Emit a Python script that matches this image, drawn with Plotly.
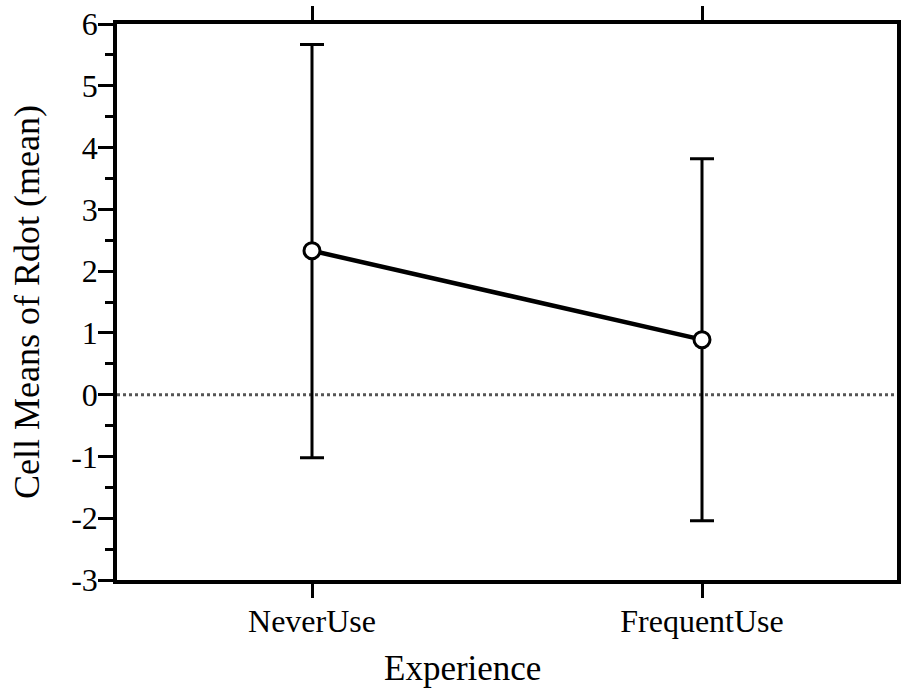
import plotly.graph_objects as go

categories = ["NeverUse", "FrequentUse"]
means = [2.33, 0.89]
err_up = [3.34, 2.93]
err_down = [3.35, 2.93]
y_tickvals = [-3, -2, -1, 0, 1, 2, 3, 4, 5, 6]
y_ticktext = ["-3", "-2", "-1", "0", "1", "2", "3", "4", "5", "6"]
x_title = "Experience"
y_title = "Cell Means of Rdot (mean)"

FONT = "Liberation Serif"

fig = go.Figure()
fig.add_hline(y=0, line=dict(color="#555555", width=3, dash="dot"), layer="below")
fig.add_trace(go.Scatter(
    x=categories, y=means,
    mode="lines+markers",
    line=dict(color="black", width=4.5),
    marker=dict(symbol="circle", size=16, color="white",
                line=dict(color="black", width=3)),
    error_y=dict(type="data", symmetric=False, array=err_up, arrayminus=err_down,
                 color="black", thickness=3, width=12),
    showlegend=False,
    hoverinfo="skip",
))

fig.update_layout(
    width=901, height=700,
    margin=dict(l=117, r=4, t=24, b=120, autoexpand=False),
    paper_bgcolor="white", plot_bgcolor="white",
    font=dict(family=FONT, size=32, color="black"),
    hovermode=False,
    xaxis=dict(
        type="category", range=[-0.5, 1.5], automargin=False,
        showline=True, linecolor="black", linewidth=3.5, mirror="ticks",
        ticks="outside", ticklen=14, tickwidth=3, tickcolor="black",
        showgrid=False, zeroline=False,
        tickfont=dict(family=FONT, size=32),
        ticklabelstandoff=-4, ticklabeloverflow="allow",
    ),
    yaxis=dict(
        range=[-3, 6], automargin=False,
        tickvals=y_tickvals, ticktext=y_ticktext,
        showline=True, linecolor="black", linewidth=3.5, mirror="ticks",
        ticks="outside", ticklen=15, tickwidth=3, tickcolor="black",
        minor=dict(dtick=0.5, ticks="outside", ticklen=8, tickwidth=3, tickcolor="black", showgrid=False),
        showgrid=False, zeroline=False,
        tickfont=dict(family=FONT, size=32),
        ticklabelstandoff=-6, ticklabeloverflow="allow",
    ),
    annotations=[
        dict(text=x_title, xref="paper", yref="paper", x=(462 - 117) / 780, y=-0.16,
             xanchor="center", yanchor="middle", showarrow=False,
             font=dict(family=FONT, size=35)),
        dict(text=y_title, xref="paper", yref="paper", x=(27 - 117) / 780, y=0.5,
             xanchor="center", yanchor="middle", showarrow=False, textangle=-90,
             font=dict(family=FONT, size=36)),
    ],
)

fig.write_html("out.html", config={"displayModeBar": False},
               post_script="document.body.style.margin='0';")
